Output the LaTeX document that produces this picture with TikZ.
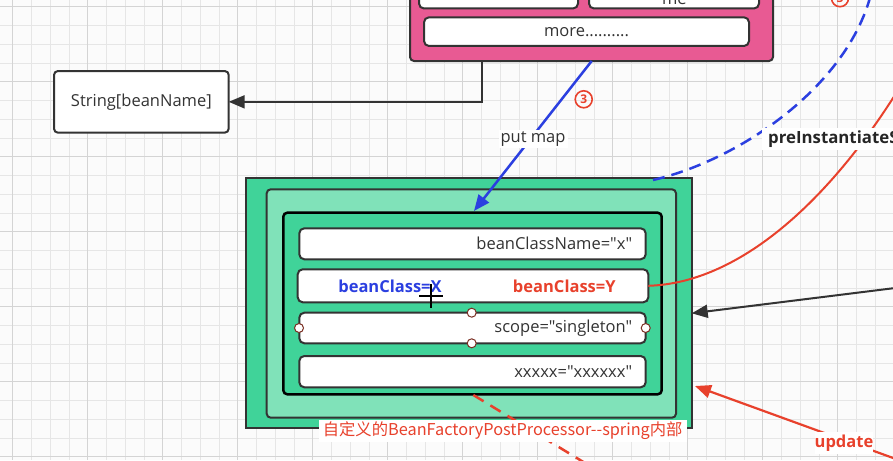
\documentclass[tikz,border=0pt]{standalone}
\usepackage{fontspec}
\setmainfont{Open Sans}
\newfontfamily\osans{Open Sans}
\newfontfamily\cjk{Noto Sans CJK SC}
\usetikzlibrary{arrows.meta}
\definecolor{bgc}{HTML}{FBFBFB}
\definecolor{gminor}{HTML}{E6E6E6}
\definecolor{gmajor}{HTML}{D4D4D4}
\definecolor{frame}{HTML}{333333}
\definecolor{pinkc}{HTML}{E85A93}
\definecolor{greenc}{HTML}{40D399}
\definecolor{lgreenc}{HTML}{80E2B9}
\definecolor{bluec}{HTML}{2B3FE0}
\definecolor{redc}{HTML}{E8412C}
\definecolor{textc}{HTML}{333333}
\definecolor{handlec}{HTML}{7A2E22}
\begin{document}
\begin{tikzpicture}[x=1pt,y=-1pt,
  box/.style={draw=frame, line width=2pt, rectangle, inner sep=0pt, outer sep=0pt},
  whitebox/.style={box, fill=white, rounded corners=5pt},
  txt/.style={font=\osans\fontsize{16.5}{18}\selectfont, text=textc, inner sep=0pt},
  btxt/.style={font=\osans\bfseries\fontsize{16.5}{18}\selectfont, inner sep=0pt},
  lbl/.style={fill=white, inner sep=2pt},
  darrow/.style={draw=frame, line width=2pt, -{Triangle[length=16pt,width=13pt]}},
  bluearr/.style={draw=bluec, line width=2.5pt, -{Triangle[length=16pt,width=13pt]}},
  redarr/.style={draw=redc, line width=2.2pt, -{Triangle[length=16pt,width=13pt]}},
  circnum/.style={circle, draw=redc, line width=1.6pt, minimum size=17pt, inner sep=0pt, text=redc, font=\osans\bfseries\fontsize{12}{12}\selectfont},
  handle/.style={circle, draw=handlec, line width=1pt, fill=white, minimum size=9pt, inner sep=0pt}
]
\useasboundingbox (0,0) rectangle (893,460);
\clip (0,0) rectangle (893,460);
\fill[bgc] (0,0) rectangle (893,460);
% grid
\foreach \i in {0,...,47} {\draw[gminor, line width=0.8pt] ({12.7+18.75*\i},0) -- ++(0,460);}
\foreach \i in {0,...,25} {\draw[gminor, line width=0.8pt] (0,{6.7+18.75*\i}) -- ++(893,0);}
\foreach \i in {0,...,11} {\draw[gmajor, line width=1pt] ({12.7+75*\i},0) -- ++(0,460);}
\foreach \i in {0,...,6} {\draw[gmajor, line width=1pt] (0,{6.7+75*\i}) -- ++(893,0);}

% pink container
\node[box, fill=pinkc, rounded corners=4pt, minimum width=363pt, minimum height=121pt] (pink) at (591.5,0.5) {};
\node[whitebox, minimum width=159pt, minimum height=38.5pt] (pl) at (498.5,-10.75) {};
\node[whitebox, minimum width=170pt, minimum height=38.5pt] (pr) at (674,-10.75) {};
\node[txt, anchor=base] (me) at (674.3,5) {me};
\node[whitebox, txt, minimum width=325pt, minimum height=28.7pt] (more) at (586.5,31.65) {more..........};

% String box
\node[box, fill=white, rounded corners=4pt, txt, minimum width=174.7pt, minimum height=61.7pt] (str) at (141.35,101.85) {String[beanName]};
\coordinate (c1) at (481.7,61);
\draw[darrow] (c1) |- (str.east);

% green containers
\node[box, fill=greenc, minimum width=445.7pt, minimum height=250pt] (outer) at (468.85,303.3) {};
\node[box, fill=lgreenc, rounded corners=4pt, minimum width=409.3pt, minimum height=228.4pt] (middle) at (471.35,303.5) {};
\node[box, draw=black, line width=2.5pt, fill=greenc, rounded corners=4pt, minimum width=378.4pt, minimum height=181.6pt] (inner) at (472.5,303.5) {};
\node[whitebox, minimum width=346.4pt, minimum height=31pt] (r1) at (472.5,243.8) {};
\node[whitebox, minimum width=350.6pt, minimum height=33pt] (r2) at (473,285.8) {};
\node[whitebox, minimum width=346.4pt, minimum height=30.6pt] (r3) at (472.5,328) {};
\node[whitebox, minimum width=346.4pt, minimum height=31.3pt] (r4) at (472.5,371.65) {};
\node[txt, anchor=east] (t1) at (632.3,243.8) {beanClassName="x"};
\node[btxt, text=bluec] (t2a) at (390,286) {beanClass=X};
\node[btxt, text=redc] (t2b) at (564.3,286) {beanClass=Y};
\node[txt, anchor=east] (t3) at (632.3,328) {scope="singleton"};
\node[txt, anchor=east] (t4) at (632.3,371.65) {xxxxx="xxxxxx"};
% selection handles
\node[handle] (h1) at (471.7,312.7) {};
\node[handle] (h2) at (471.7,343.3) {};
\node[handle] (h3) at (299,328) {};
\node[handle] (h4) at (645.7,328) {};
% cursor
\draw[black, line width=2pt] (419,295.7) -- (443,295.7);
\draw[black, line width=2pt] (430.7,284) -- (430.7,307.5);

% blue arrow put map
\coordinate (b0) at (591.7,61);
\coordinate (b1) at (474,211);
\draw[bluearr] (b0) -- (b1);
\node[circnum] (n3a) at (583.7,99.3) {3};
\node[circnum] (n3b) at (840,-1.8) {3};

% red curve from beanClass=Y
\draw[redc, line width=2pt] (r2.east) .. controls (740,283) and (830,200) .. (900,87);
% blue dashed curve
\coordinate (d0) at (653,180);
\draw[bluec, line width=2.5pt, dash pattern=on 12pt off 7pt] (d0) .. controls (740,160) and (850,85) .. (872,-10);
% black arrow from the right
\coordinate (k0) at (900,287.4);
\coordinate (k1) at (691.7,313.3);
\draw[darrow] (k0) -- (k1);
% red update arrow
\coordinate (u0) at (900,460.5);
\coordinate (u1) at (695,386);
\draw[redarr] (u0) -- (u1);
% red dashed line
\coordinate (e0) at (473.3,395);
\coordinate (e1) at (585,463);
\draw[redc, line width=2.5pt, dash pattern=on 12pt off 8pt] (e0) -- (e1);

% labels
\node[lbl, txt, inner sep=2pt] (pm) at (533,139) {put map};
\node[fill=white, inner xsep=6pt, inner ysep=0pt, minimum height=22pt, anchor=west, font=\osans\bfseries\fontsize{16.8}{18}\selectfont, text=black!85] (pre) at (762,139.3) {preInstantiateS};
\node[fill=white, inner sep=0pt, minimum height=22pt, btxt, text=redc] (upd) at (844,443) {update};
\node[fill=white, inner sep=0pt, minimum width=368pt, minimum height=21.7pt, text=redc, font=\cjk\fontsize{16.3}{18}\selectfont] (cn) at (502.7,430.8) {自定义的BeanFactoryPostProcessor-{}-spring内部};
\end{tikzpicture}
\end{document}
